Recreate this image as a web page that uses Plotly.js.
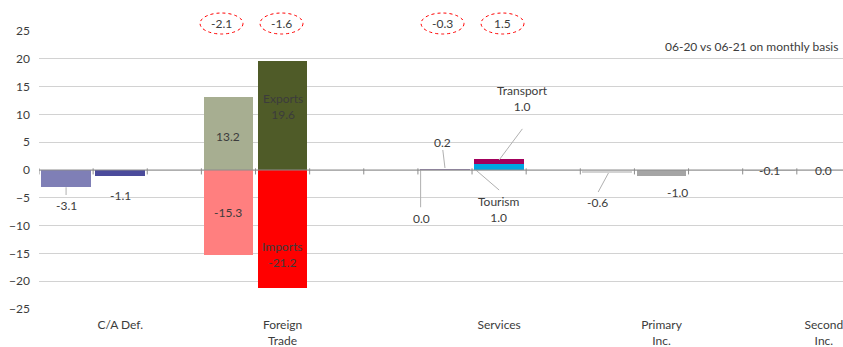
<!DOCTYPE html>
<html>
<head>
<meta charset="utf-8">
<script src="https://cdn.plot.ly/plotly-3.0.1.min.js"></script>
<style>
html,body{margin:0;padding:0;overflow:hidden;background:#fff;}
#chart{width:843px;height:347px;}
</style>
</head>
<body>
<div id="chart"></div>
<script>
// ---- data ----
const categories = ['C/A Def.', 'Foreign<br>Trade', 'Services', 'Primary<br>Inc.', 'Second<br>Inc.'];
const periods = ['06-20', '06-21'];
const caDef = [-3.1, -1.1];
const exportsV = [13.2, 19.6];
const importsV = [-15.3, -21.2];
const servicesTransport = [0.2, 1.0];
const servicesTourism = [0.0, 1.0];
const netTrade = [-2.1, -1.6];
const netServices = [-0.3, 1.5];
const primaryInc = [-0.6, -1.0];
const secondInc = [-0.1, 0.0];
const subtitle = '06-20 vs 06-21 on monthly basis';

// ---- layout helpers ----
const groupStart = [1, 4, 8, 11, 14];
const nSlots = 15;
const xs = g => [groupStart[g], groupStart[g] + 1];
const W = 0.92;
const FONT = 'Lato, "Open Sans", sans-serif';
const TXT = '#3c3c3c';

const traces = [
  {x: xs(0), y: caDef, marker: {color: ['#7F7FB6', '#4B4B9B']}},
  {x: xs(1), y: exportsV, marker: {color: ['#A7AE91', '#4F5B28']}},
  {x: xs(1), y: importsV, marker: {color: ['#FF7F7F', '#FF0000']}},
  {x: xs(2), y: servicesTourism, marker: {color: ['#9A8AB5', '#00A6E2']}},
  {x: xs(2), y: servicesTransport, marker: {color: ['#8E7BA8', '#A3005C']}},
  {x: xs(3), y: primaryInc, marker: {color: ['#D3D3D3', '#A5A5A5']}},
  {x: xs(4), y: secondInc, marker: {color: ['#BBBBBB', '#999999']}}
].map(t => Object.assign({type: 'bar', width: W, hoverinfo: 'none', showlegend: false}, t));

function ann(x, y, text, extra) {
  return Object.assign({x: x, y: y, text: text, showarrow: false, xref: 'x', yref: 'y',
    xanchor: 'center', font: {family: FONT, size: 12, color: TXT}}, extra || {});
}
function leader(x0, y0, x1, y1) {
  return {type: 'line', xref: 'x', yref: 'y', x0: x0, y0: y0, x1: x1, y1: y1,
    line: {color: '#b0b0b0', width: 1}};
}

const annotations = [
  ann(xs(0)[0], caDef[0], caDef[0].toFixed(1), {yshift: -18}),
  ann(xs(0)[1], caDef[1], caDef[1].toFixed(1), {yshift: -19}),
  ann(xs(1)[0], exportsV[0] * 0.45, exportsV[0].toFixed(1)),
  ann(xs(1)[1], exportsV[1] * 0.58, 'Exports<br>' + exportsV[1].toFixed(1)),
  ann(xs(1)[0], importsV[0] * 0.5, importsV[0].toFixed(1)),
  ann(xs(1)[1], importsV[1] * 0.72, 'Imports<br>' + importsV[1].toFixed(1)),
  ann(7.95, 4.86, servicesTransport[0].toFixed(1)),
  ann(7.56, -8.8, servicesTourism[0].toFixed(1)),
  ann(9.44, 12.8, 'Transport<br>' + servicesTransport[1].toFixed(1)),
  ann(9.0, -7.1, 'Tourism<br>' + servicesTourism[1].toFixed(1)),
  ann(10.82, -5.76, primaryInc[0].toFixed(1)),
  ann(12.3, -4.1, primaryInc[1].toFixed(1)),
  ann(xs(4)[0], 0, secondInc[0].toFixed(1)),
  ann(xs(4)[1], 0, secondInc[1].toFixed(1)),
  {xref: 'paper', yref: 'paper', x: 0.9963, y: 0.946, xanchor: 'right', yanchor: 'middle',
   text: subtitle, showarrow: false, font: {family: FONT, size: 12, color: TXT}}
];

const shapes = [
  leader(1, caDef[0], 1, -4.5),
  leader(8.0, 0.36, 7.96, 3.6),
  leader(7.55, 0, 7.55, -6.7),
  leader(9.0, 1.8, 9.43, 7.4),
  leader(8.57, 0, 9.0, -3.6),
  leader(11.02, -0.54, 10.83, -3.96),
  {type: 'line', xref: 'paper', yref: 'y', x0: 0, x1: 1, y0: 0, y1: 0,
   line: {color: '#8c8c8c', width: 1}}
];
for (let k = 0; k <= nSlots; k++) {
  shapes.push({type: 'line', xref: 'x', yref: 'y', x0: k + 0.5, x1: k + 0.5, y0: 0.3, y1: -0.8,
    line: {color: '#8c8c8c', width: 1}});
}

// net balance ellipses
const ellipseCenters = [0.2270, 0.3016, 0.5019, 0.5765];
const ellipseVals = netTrade.concat(netServices);
const hw = 0.0267, yTop = 1.0647, yBot = 0.9892;
ellipseVals.forEach((v, i) => {
  shapes.push({type: 'circle', xref: 'paper', yref: 'paper',
    x0: ellipseCenters[i] - hw, x1: ellipseCenters[i] + hw, y0: yBot, y1: yTop,
    line: {color: '#FF0000', width: 1, dash: 'dot'}, fillcolor: 'rgba(0,0,0,0)'});
  annotations.push({xref: 'paper', yref: 'paper', x: ellipseCenters[i], y: (yTop + yBot) / 2,
    text: v.toFixed(1), showarrow: false, xanchor: 'center', yanchor: 'middle',
    font: {family: FONT, size: 12, color: TXT}});
});

const layout = {
  width: 843, height: 347,
  margin: {l: 39, r: 0, t: 31, b: 38},
  paper_bgcolor: '#fff', plot_bgcolor: '#fff',
  barmode: 'relative', bargap: 0,
  font: {family: FONT, size: 12, color: TXT},
  xaxis: {range: [0.5, 0.5 + 804 / 54.13], showgrid: false, zeroline: false, showline: false,
    tickvals: groupStart.map(g => g + 1), ticktext: categories, ticks: '',
    ticklabeloverflow: 'allow', ticklabelstandoff: 7,
    tickfont: {family: FONT, size: 12, color: TXT}, fixedrange: true},
  yaxis: {range: [-25, 25], tickvals: [-25, -20, -15, -10, -5, 0, 5, 10, 15, 20, 25],
    showgrid: true, gridcolor: '#d2d2d2', gridwidth: 1, zeroline: false, showline: false,
    ticks: '', ticklabelstandoff: 8, tickfont: {family: FONT, size: 12, color: TXT}, fixedrange: true},
  shapes: shapes,
  annotations: annotations
};

Plotly.newPlot('chart', traces, layout, {displayModeBar: false, staticPlot: true});
</script>
</body>
</html>
